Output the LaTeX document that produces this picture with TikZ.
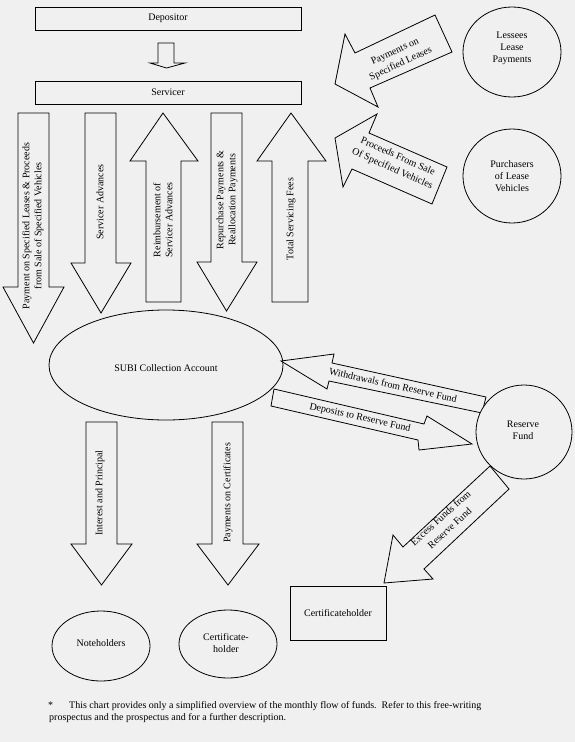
\documentclass[tikz,border=0pt]{standalone}
\usepackage{fontspec}
\setmainfont{Liberation Serif}
\definecolor{bg}{RGB}{240,240,240}
\tikzset{
  shp/.style={draw=black, line width=0.8pt, fill=bg, line join=miter},
  lbl/.style={font=\fontsize{10}{12}\selectfont, align=center, inner sep=0pt},
  dlbl/.style={font=\fontsize{10}{13.5}\selectfont, align=center, inner sep=0pt},
  boxnode/.style={shp, rectangle, inner sep=0pt},
  ovalnode/.style={shp, ellipse, inner sep=0pt},
}
\usetikzlibrary{shapes.geometric}
\begin{document}
\begin{tikzpicture}[x=1pt,y=-1pt]
\fill[bg] (0,0) rectangle (575,742);
\useasboundingbox (0,0) rectangle (575,742);

% top boxes
\node[boxnode, minimum width=266pt, minimum height=23pt, lbl] (dep) at (168,18.5) {Depositor};
\draw[shp] (158,43) -- (174,43) -- (174,63) -- (185,63) -- (166.5,68) -- (150,63) -- (158,63) -- cycle;
\node[boxnode, minimum width=266pt, minimum height=23pt, lbl] (ser) at (168,92.5) {Servicer};

% SUBI ellipse
\node[ovalnode, minimum width=234pt, minimum height=110pt, lbl] (subi) at (166,365) {};
\node[lbl] (subit) at (166,368) {SUBI Collection Account};

% vertical arrows from servicer
\draw[shp] (18,113) -- (49,113) -- (49,287) -- (64,287) -- (33.5,343) -- (3,287) -- (18,287) -- cycle;
\node[lbl, rotate=90] (a1) at (33,226) {Payment on Specified Leases \& Proceeds\\from Sale of Specified Vehicles};
\draw[shp] (85,113) -- (116,113) -- (116,263) -- (131,263) -- (101,313) -- (71,263) -- (85,263) -- cycle;
\node[lbl, rotate=90] (a2) at (100,202) {Servicer Advances};
\draw[shp] (163,113) -- (198,161) -- (181,161) -- (181,302) -- (146,302) -- (146,161) -- (130,161) -- cycle;
\node[lbl, rotate=90] (a3) at (163,220) {Reimbursement of\\Servicer Advances};
\draw[shp] (211,113) -- (242,113) -- (242,262) -- (257,262) -- (226.5,311) -- (197,262) -- (211,262) -- cycle;
\node[lbl, rotate=90] (a4) at (227,200) {Repurchase Payments \&\\Reallocation Payments};
\draw[shp] (291,113) -- (326,161) -- (308,161) -- (308,302) -- (272,302) -- (272,161) -- (257,161) -- cycle;
\node[lbl, rotate=90] (a5) at (291,219) {Total Servicing Fees};

% right top circles and arrows
\node[ovalnode, minimum width=98pt, minimum height=90pt, lbl] (les) at (512,52) {};
\node[lbl] (lest) at (512,48.5) {Lessees\\Lease\\Payments};
\node[ovalnode, minimum width=98pt, minimum height=94pt, lbl] (pur) at (512,176) {};
\node[lbl] (purt) at (512,176) {Purchasers\\of Lease\\Vehicles};

\draw[shp] (435,15) -- (452,52) -- (370,88) -- (378,107) -- (335,84) -- (345,34) -- (355,53) -- cycle;
\node[dlbl, rotate=25] (pl) at (398,58) {Payments on\\Specified Leases};
\draw[shp] (335,138) -- (377,114) -- (369,133) -- (447,167) -- (432,204) -- (352,169) -- (343,187) -- cycle;
\node[dlbl, rotate=-24] (pv) at (395,163) {Proceeds From Sale\\Of Specified Vehicles};

% reserve fund arrows
\draw[shp] (281,361) -- (334,354) -- (332,363) -- (486,397) -- (482,413) -- (329,381) -- (327,389) -- cycle;
\node[lbl, rotate=-12.5] (wd) at (393,385) {Withdrawals from Reserve Fund};
\draw[shp] (274,389) -- (424,424) -- (427,416) -- (472,444) -- (419,450) -- (418,440) -- (271,406) -- cycle;
\node[lbl, rotate=-12.5] (dp) at (360,418) {Deposits to Reserve Fund};

\draw[shp] (490,466) -- (509,489) -- (424,569) -- (433,579) -- (384,583) -- (393,535) -- (403,547) -- cycle;
\node[dlbl, rotate=42] (ex) at (445,523) {Excess Funds from\\Reserve Fund};

\node[ovalnode, minimum width=96pt, minimum height=94pt, lbl] (res) at (524,432) {};
\node[lbl] (rest) at (523,430) {Reserve\\Fund};

\node[boxnode, minimum width=96pt, minimum height=54pt, lbl] (ch) at (338,613) {Certificateholder};

% bottom arrows
\draw[shp] (86,422) -- (117,422) -- (117,544) -- (132,544) -- (101.5,585) -- (71,544) -- (86,544) -- cycle;
\node[lbl, rotate=90] (ip) at (100,493) {Interest and Principal};
\draw[shp] (212,422) -- (243,422) -- (243,544) -- (259,544) -- (228,585) -- (197,544) -- (212,544) -- cycle;
\node[lbl, rotate=90] (pc) at (228,493) {Payments on Certificates};

\node[ovalnode, minimum width=98pt, minimum height=70pt, lbl] (nh) at (101,646) {};
\node[lbl] (nht) at (101,643) {Noteholders};
\node[ovalnode, minimum width=98pt, minimum height=68pt, lbl] (chb) at (228,644) {};
\node[lbl] (chbt) at (226,643) {Certificate-\\holder};

% footnote
\node[lbl, anchor=base west] (fn0) at (48,708) {*};
\node[lbl, anchor=base west] (fn1) at (69,708) {This chart provides only a simplified overview of the monthly flow of funds.\ \ Refer to this free-writing};
\node[lbl, anchor=base west] (fn2) at (49,720) {prospectus and the prospectus and for a further description.};
\end{tikzpicture}
\end{document}
